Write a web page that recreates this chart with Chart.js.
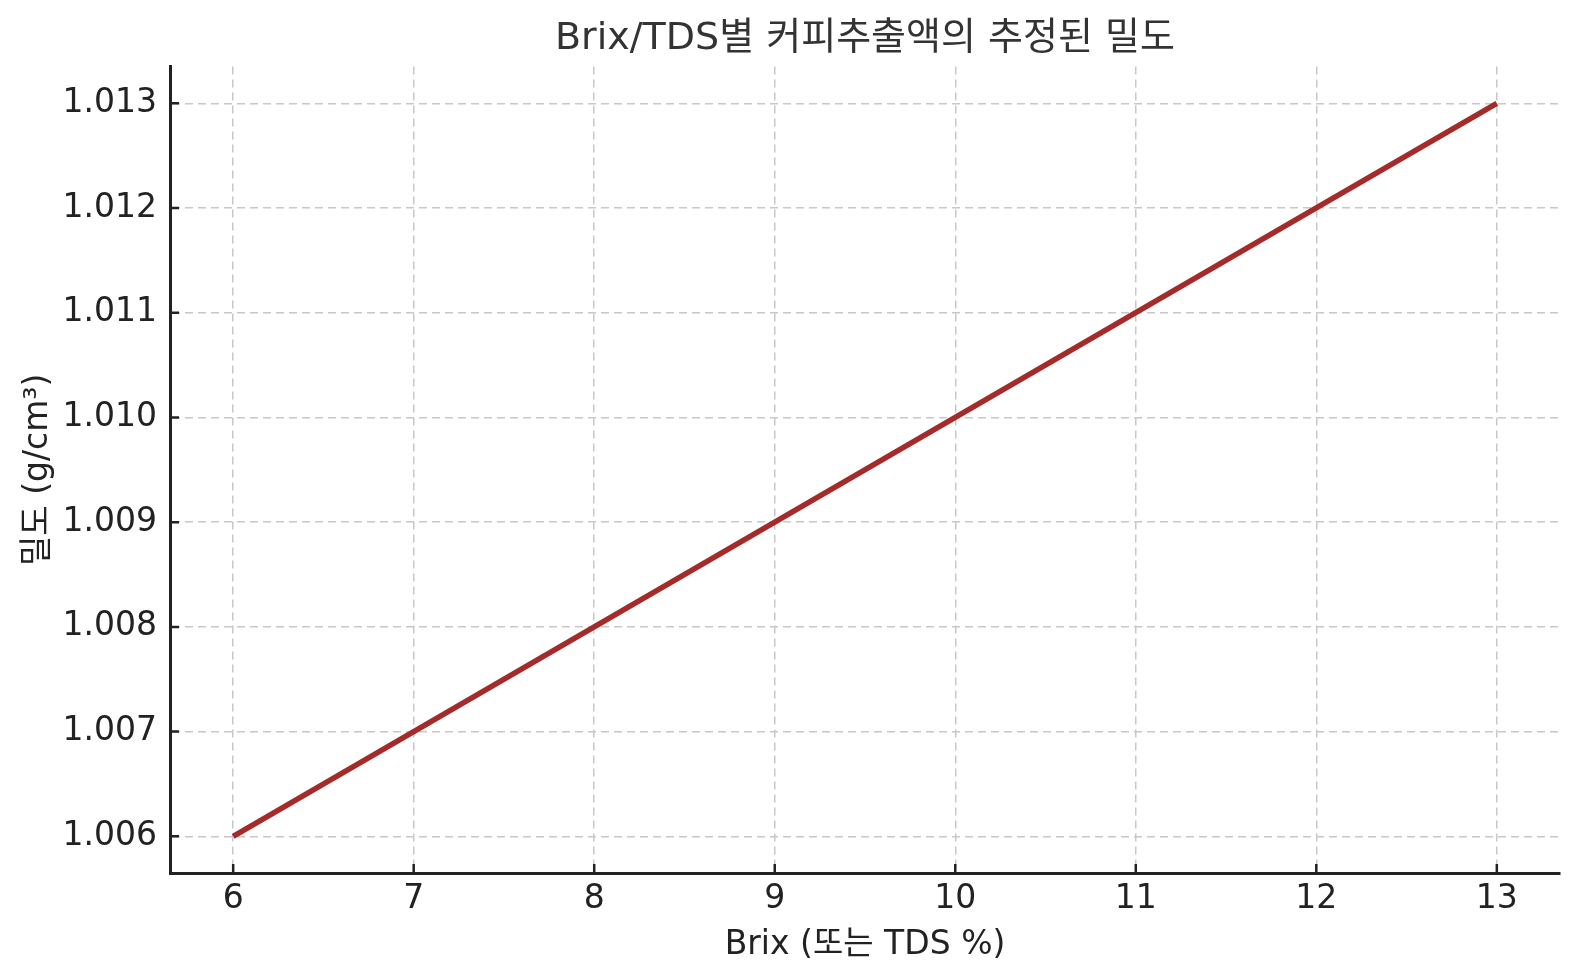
<!DOCTYPE html>
<html>
<head>
<meta charset="utf-8">
<script src="https://cdn.jsdelivr.net/npm/chart.js@4.4.1/dist/chart.umd.min.js"></script>
<style>
  html, body { margin: 0; padding: 0; background: #fff; }
  #wrap { width: 1580px; height: 980px; }
</style>
</head>
<body>
<div id="wrap"><canvas id="chart"></canvas></div>
<script>
// Brix(%) 와 밀도 값
const brix = [6, 7, 8, 9, 10, 11, 12, 13];
const density = [1.006, 1.007, 1.008, 1.009, 1.010, 1.011, 1.012, 1.013];

const xTicks = [6, 7, 8, 9, 10, 11, 12, 13];
const yTicks = [1.006, 1.007, 1.008, 1.009, 1.010, 1.011, 1.012, 1.013];

const titleText = 'Brix/TDS별 커피추출액의 추정된 밀도';
const xLabel = 'Brix (또는 TDS %)';
const yLabel = '밀도 (g/cm³)';

const FONT = "'DejaVu Sans', 'Noto Sans CJK KR', sans-serif";
const GRID = '#c8c8c8';
const AXIS = '#222222';

// 안쪽으로 향하는 눈금 표시
const innerTicks = {
    id: 'innerTicks',
    afterDatasetsDraw(chart) {
        const { ctx, chartArea, scales } = chart;
        ctx.save();
        ctx.strokeStyle = AXIS;
        ctx.lineWidth = 2.5;
        ctx.beginPath();
        scales.x.ticks.forEach(t => {
            const px = scales.x.getPixelForValue(t.value);
            ctx.moveTo(px, chartArea.bottom);
            ctx.lineTo(px, chartArea.bottom - 9);
        });
        scales.y.ticks.forEach(t => {
            const py = scales.y.getPixelForValue(t.value);
            ctx.moveTo(chartArea.left, py);
            ctx.lineTo(chartArea.left + 9, py);
        });
        ctx.stroke();
        ctx.restore();
    }
};

const ctx = document.getElementById('chart').getContext('2d');

new Chart(ctx, {
    type: 'line',
    data: {
        datasets: [{
            data: brix.map((b, i) => ({ x: b, y: density[i] })),
            borderColor: '#a52a2a',
            borderWidth: 5.5,
            pointRadius: 0,
            tension: 0,
            fill: false
        }]
    },
    options: {
        responsive: true,
        maintainAspectRatio: false,
        animation: false,
        layout: { padding: { top: 0, right: 20, bottom: 0, left: 0 } },
        plugins: {
            legend: { display: false },
            tooltip: { enabled: false },
            title: {
                display: true,
                text: titleText,
                fullSize: false,
                color: '#333333',
                font: { family: FONT, size: 38, weight: 'normal' },
                padding: { top: 16, bottom: 5 }
            }
        },
        scales: {
            x: {
                type: 'linear',
                min: 5.65,
                max: 13.35,
                afterBuildTicks: s => { s.ticks = xTicks.map(v => ({ value: v })); },
                afterFit: s => { s.height = 107; },
                ticks: {
                    color: AXIS,
                    padding: 7,
                    maxRotation: 0,
                    font: { family: FONT, size: 33 },
                    callback: v => String(v)
                },
                grid: { color: GRID, lineWidth: 1.5, drawTicks: false },
                border: { color: AXIS, width: 3, dash: [8, 5] },
                title: {
                    display: true,
                    text: xLabel,
                    color: AXIS,
                    font: { family: FONT, size: 33 },
                    padding: { top: 4, bottom: 15 }
                }
            },
            y: {
                type: 'linear',
                min: 1.00565,
                max: 1.01335,
                afterBuildTicks: s => { s.ticks = yTicks.map(v => ({ value: v })); },
                afterFit: s => { s.width = 170; },
                ticks: {
                    color: AXIS,
                    padding: 13,
                    font: { family: FONT, size: 33 },
                    callback: v => v.toFixed(3)
                },
                grid: { color: GRID, lineWidth: 1.5, drawTicks: false },
                border: { color: AXIS, width: 3, dash: [8, 5] },
                title: {
                    display: true,
                    text: yLabel,
                    color: AXIS,
                    font: { family: FONT, size: 33 },
                    padding: { top: 19, bottom: 4 }
                }
            }
        }
    },
    plugins: [innerTicks]
});
</script>
</body>
</html>
